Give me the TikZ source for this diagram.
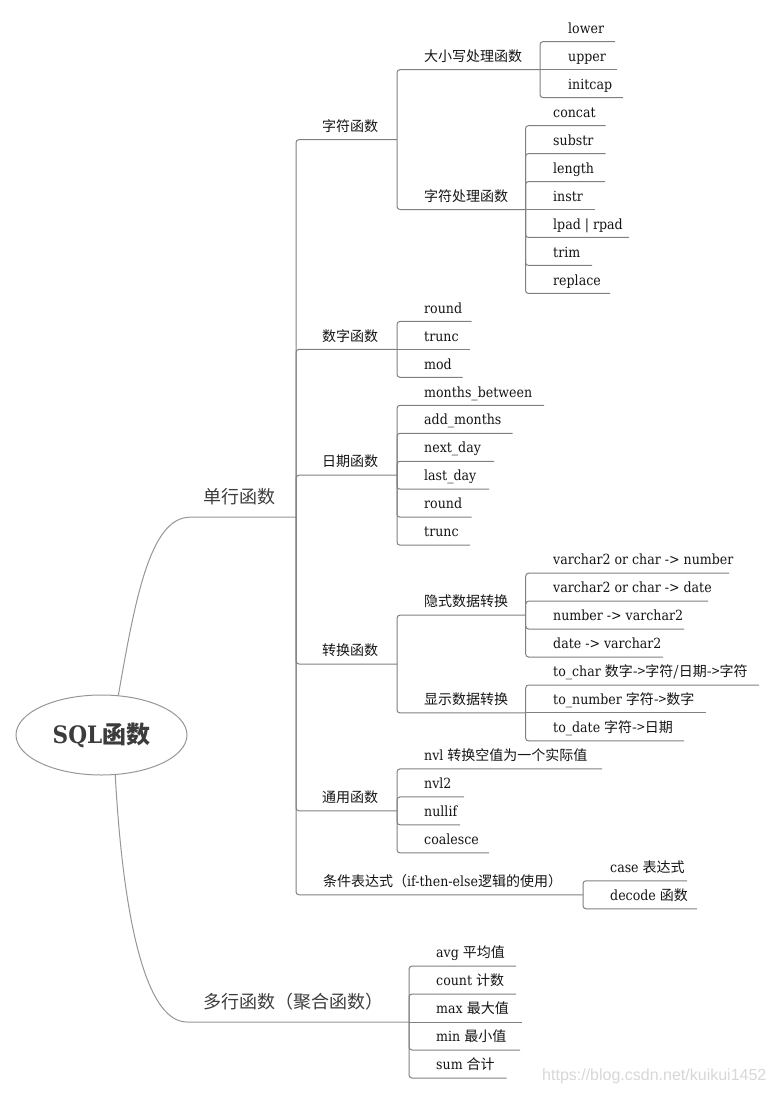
\documentclass[tikz,border=0pt]{standalone}
\usepackage{fontspec}
\setmainfont{DejaVu Serif Condensed}
\newfontfamily\cjk{Noto Sans CJK SC}
\newfontfamily\wmfont{Liberation Sans}
\usetikzlibrary{shapes.geometric}
\definecolor{linegray}{RGB}{128,128,128}
\definecolor{curvegray}{RGB}{150,150,150}
\definecolor{txt}{RGB}{20,20,20}
\definecolor{bigtxt}{RGB}{60,60,60}
\definecolor{wmcol}{RGB}{215,215,215}
\newcommand\zh[1]{{\cjk #1}}
\newcommand\mmleaf[5]{\node[lbl] (#1) at (#2,#3-8.3) {#5};\coordinate (#1-e) at (#4,#3);}
\begin{document}
\begin{tikzpicture}[x=1pt,y=-1pt,
  lbl/.style={anchor=base west, inner sep=0pt, text=txt, font=\fontsize{14}{16}\selectfont},
  big/.style={anchor=base west, inner sep=0pt, text=bigtxt, font=\fontsize{18}{20}\selectfont\cjk},
  link/.style={draw=linegray, line width=1pt, rounded corners=3pt},
  curve/.style={draw=curvegray, line width=1pt},
  rootnode/.style={ellipse, draw=curvegray, line width=1pt, minimum width=171pt, minimum height=80pt, inner sep=0pt, text=bigtxt, font=\fontsize{24}{26}\selectfont\bfseries}
]
\useasboundingbox (0,0) rectangle (775,1094);

% root and level 1
\node[rootnode] (root) at (101.5,735) {SQL{\cjk\bfseries 函数}};
\node[big] (dh) at (203,503.5) {单行函数};
\coordinate (dh-s) at (190,517.2);
\coordinate (dh-e) at (296,517.2);
\node[big] (dd) at (203,1008) {多行函数（聚合函数）};
\coordinate (dd-s) at (187,1022);
\coordinate (dd-e) at (409,1022);
\draw[curve] (root.67) .. controls (135,600) and (150,517.2) .. (dh-s) -- (dh-e);
\draw[curve] (root.-71) .. controls (122,900) and (142,1022) .. (dd-s) -- (dd-e);

% level 2
\mmleaf{zf}{322}{139.6}{397}{\zh{字符函数}}
\mmleaf{sz}{322}{349.37}{397}{\zh{数字函数}}
\mmleaf{rq}{322}{475.2}{397}{\zh{日期函数}}
\mmleaf{zhf}{322}{664.0}{397}{\zh{转换函数}}
\mmleaf{ty}{322}{810.9}{397}{\zh{通用函数}}
\mmleaf{tj}{323}{894.8}{583}{\zh{条件表达式（}if-then-else\zh{逻辑的使用）}}

% level 3
\mmleaf{dx}{424}{69.67}{540}{\zh{大小写处理函数}}
\mmleaf{zc}{424}{209.52}{525.5}{\zh{字符处理函数}}
\mmleaf{ys}{424}{615.1}{525.7}{\zh{隐式数据转换}}
\mmleaf{xs}{424}{712.98}{525.7}{\zh{显示数据转换}}

% leaves
\mmleaf{lower}{568}{41.7}{615}{lower}
\mmleaf{upper}{568}{69.67}{617}{upper}
\mmleaf{initcap}{568}{97.64}{623}{initcap}

\mmleaf{concat}{553}{125.61}{605.5}{concat}
\mmleaf{substr}{553}{153.58}{605.5}{substr}
\mmleaf{length}{553}{181.55}{605}{length}
\mmleaf{instr}{553}{209.52}{595}{instr}
\mmleaf{lpad}{553}{237.49}{629}{lpad | rpad}
\mmleaf{trim}{553}{265.46}{592}{trim}
\mmleaf{replace}{553}{293.43}{610}{replace}

\mmleaf{round}{424}{321.4}{471.7}{round}
\mmleaf{trunc}{424}{349.37}{470}{trunc}
\mmleaf{mod}{424}{377.34}{462.7}{mod}

\mmleaf{mb}{424}{405.31}{544}{months\_between}
\mmleaf{am}{424}{433.28}{512.7}{add\_months}
\mmleaf{nd}{424}{461.25}{494}{next\_day}
\mmleaf{ld}{424}{489.22}{489}{last\_day}
\mmleaf{rdb}{424}{517.19}{471.7}{round}
\mmleaf{trb}{424}{545.16}{470}{trunc}

\mmleaf{va}{553}{573.13}{729}{varchar2 or char -> number}
\mmleaf{vb}{553}{601.1}{708}{varchar2 or char -> date}
\mmleaf{vc}{553}{629.07}{684}{number -> varchar2}
\mmleaf{vd}{553}{657.04}{663}{date -> varchar2}

\mmleaf{tc}{553}{685.01}{759}{to\_char \zh{数字->字符/日期->字符}}
\mmleaf{tn}{553}{712.98}{706}{to\_number \zh{字符->数字}}
\mmleaf{td}{553}{740.95}{684}{to\_date \zh{字符->日期}}

\mmleaf{nvl}{424}{768.92}{602}{nvl \zh{转换空值为一个实际值}}
\mmleaf{nvlb}{424}{796.89}{464}{nvl2}
\mmleaf{nullif}{424}{824.86}{460}{nullif}
\mmleaf{coalesce}{424}{852.83}{489}{coalesce}

\mmleaf{case}{610}{880.8}{687}{case \zh{表达式}}
\mmleaf{decode}{610}{908.77}{697}{decode \zh{函数}}

\mmleaf{avg}{436}{966}{516}{avg \zh{平均值}}
\mmleaf{count}{436}{994}{516}{count \zh{计数}}
\mmleaf{max}{436}{1022}{521.7}{max \zh{最大值}}
\mmleaf{min}{436}{1050}{520}{min \zh{最小值}}
\mmleaf{sum}{436}{1078}{506.7}{sum \zh{合计}}

% connectors (branch to child, with rounded corner)
\foreach \p/\c in {dh/zf, dh/sz, dh/rq, dh/zhf, dh/ty, dh/tj,
  zf/dx, zf/zc, dx/lower, dx/initcap,
  zc/concat, zc/substr, zc/length, zc/lpad, zc/trim, zc/replace,
  sz/round, sz/mod,
  rq/mb, rq/am, rq/nd, rq/ld, rq/rdb, rq/trb,
  zhf/ys, zhf/xs, ys/va, ys/vb, ys/vc, ys/vd, xs/tc, xs/td,
  ty/nvl, ty/nvlb, ty/nullif, ty/coalesce,
  tj/case, tj/decode,
  dd/avg, dd/count, dd/min, dd/sum}
  \draw[link] (\p-e) |- (\c-e);
% middle children, straight on
\foreach \p/\c in {dx/upper, zc/instr, sz/trunc, xs/tn, dd/max}
  \draw[link] (\p-e) -- (\c-e);

% watermark
\node[anchor=base west, inner sep=0pt, text=wmcol, font=\wmfont\fontsize{16}{18}\selectfont] (wm) at (542,1080) {https://blog.csdn.net/kuikui1452};
\end{tikzpicture}
\end{document}
